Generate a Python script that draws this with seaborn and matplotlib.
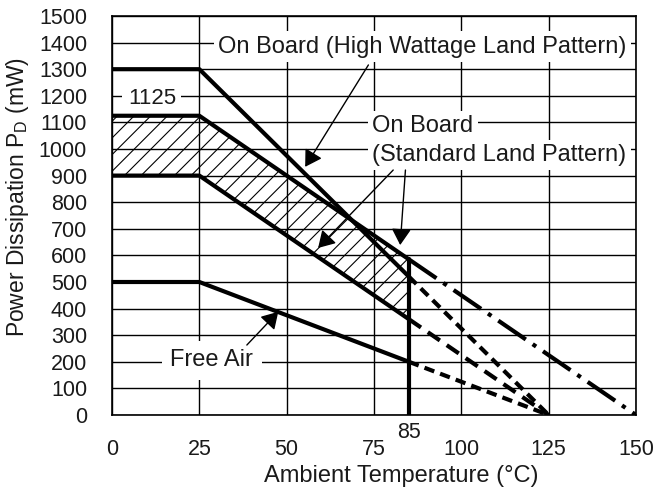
import matplotlib
matplotlib.use("Agg")
import matplotlib.pyplot as plt
import seaborn as sns
import numpy as np
import pandas as pd

# === Data ===
# break points of the derating curves, deg C
temp_knee = [0, 25, 85]
temp_end_125 = 125
temp_end_150 = 150

high_watt = [1300, 1300, 520]    # On Board (High Wattage Land Pattern)
std_upper = [1125, 1125, 585]    # On Board (Standard Land Pattern), upper edge
std_lower = [900, 900, 360]      # On Board (Standard Land Pattern), lower edge
free_air = [500, 500, 200]       # Free Air

x_ticks = [0, 25, 50, 75, 100, 125, 150]
y_ticks = list(range(0, 1600, 100))

sns.set_theme(style="white")
plt.rcParams['font.family'] = ['Liberation Sans', 'DejaVu Sans']
plt.rcParams['hatch.linewidth'] = 0.8
plt.rcParams['mathtext.fontset'] = 'custom'
plt.rcParams['mathtext.rm'] = 'Liberation Sans'

fig = plt.figure(figsize=(6.56, 4.94), dpi=100)
ax = fig.add_axes([112 / 656, 1 - 415 / 494, (636 - 112) / 656, (415 - 16) / 494])

LW = 3
TXT = '#1a1a1a'

# hatched band for the standard land pattern
ax.fill_between(temp_knee, std_lower, std_upper, facecolor='none',
                edgecolor='black', hatch='//', lw=0, zorder=2)

# solid part of each curve (up to 85 C)
for vals in [high_watt, std_upper, std_lower, free_air]:
    sns.lineplot(x=temp_knee, y=vals, ax=ax, color='black', lw=LW,
                 estimator=None, sort=False, zorder=4)

# extrapolated parts beyond 85 C
ext = [
    (high_watt[-1], temp_end_125, (0, (2.5, 1.5))),
    (std_upper[-1], temp_end_150, (0, (8, 2, 1, 2))),
    (std_lower[-1], temp_end_125, (0, (3.5, 2))),
    (free_air[-1], temp_end_125, (0, (2.5, 1.5))),
]
for p85, t_end, ls in ext:
    sns.lineplot(x=[temp_knee[-1], t_end], y=[p85, 0], ax=ax, color='black',
                 lw=LW, linestyle=ls, estimator=None, sort=False, zorder=4)

# vertical limit at 85 C
sns.lineplot(x=[temp_knee[-1], temp_knee[-1]], y=[0, std_upper[-1]], ax=ax,
             color='black', lw=LW, estimator=None, sort=False, zorder=4)

ax.set_xlim(0, 150)
ax.set_ylim(0, 1500)
ax.set_xticks(x_ticks)
ax.set_yticks(y_ticks)
ax.grid(True, color='black', lw=1)
ax.set_axisbelow(True)
ax.tick_params(axis='both', length=0, labelsize=15.5, colors=TXT)
ax.tick_params(axis='x', pad=17)
ax.tick_params(axis='y', pad=18)
for s in ax.spines.values():
    s.set_color('black')
    s.set_linewidth(1.2)
    s.set_zorder(6)

ax.set_xlabel('Ambient Temperature (°C)', fontsize=17, color=TXT)
ax.set_ylabel('Power Dissipation P$_{\\mathregular{D}}$ (mW)', fontsize=16.5, color=TXT)
ax.xaxis.set_label_coords(0.552, -0.125)
ax.yaxis.set_label_coords(-0.155, 0.545)

# extra tick label for 85 C
ax.text(85, -65, '85', ha='center', va='center', fontsize=15.5, color=TXT, clip_on=False)

box = dict(facecolor='white', edgecolor='none', pad=3)
ax.text(147.3, 1385, 'On Board (High Wattage Land Pattern)', ha='right', va='center',
        fontsize=17, color=TXT, bbox=box, zorder=3)
ax.text(74.5, 1086, 'On Board', ha='left', va='center', fontsize=17,
        color=TXT, bbox=box, zorder=3)
ax.text(74.5, 977, '(Standard Land Pattern)', ha='left', va='center', fontsize=17,
        color=TXT, bbox=box, zorder=3)
ax.text(11.4, 1190, '1125', ha='center', va='center', fontsize=16,
        color=TXT, bbox=dict(facecolor='white', edgecolor='none', pad=4), zorder=3)
ax.text(28.6, 205, 'Free Air', ha='center', va='center', fontsize=17,
        color=TXT, bbox=dict(facecolor='white', edgecolor='none', pad=6), zorder=3)

arrow = dict(arrowstyle='-|>,head_length=0.5,head_width=0.3', color='black',
             lw=1, mutation_scale=20, shrinkA=0, shrinkB=0)
arrows = [
    ((73.4, 1316), (55.3, 933)),
    ((80.5, 921), (59.0, 628)),
    ((84.0, 921), (82.5, 639)),
    ((38.6, 263), (47.6, 388)),
]
for start, end in arrows:
    ax.annotate('', xy=end, xytext=start, arrowprops=arrow, zorder=5)

plt.savefig('out.png', dpi=100)
